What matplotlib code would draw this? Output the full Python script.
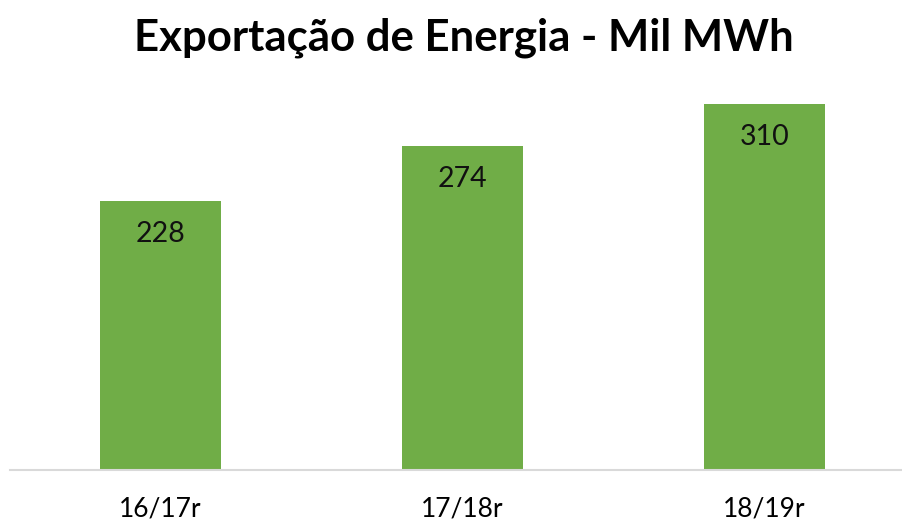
import matplotlib.pyplot as plt

categorias = ['16/17r', '17/18r', '18/19r']
valores = [228, 274, 310]
titulo = 'Exportação de Energia - Mil MWh'

plt.rcParams['font.family'] = ['Lato', 'DejaVu Sans']

fig = plt.figure(figsize=(9.03, 5.21), dpi=100)
ax = fig.add_axes([9.5 / 903, 51 / 521, (903 - 9.5) / 903, 413.7 / 521])

x = range(len(categorias))
bars = ax.bar(x, valores, width=0.4, color='#70ad47')

for b, v in zip(bars, valores):
    ax.annotate(str(v), (b.get_x() + b.get_width() / 2, v), xytext=(0, -33),
                textcoords='offset pixels', ha='center', va='center',
                fontsize=20.5, color='#111111')

ax.set_xlim(-0.5, 2.5 - 12.5 / 302)
ax.set_ylim(0, 350)
ax.set_xticks(list(x))
ax.set_xticklabels(categorias, fontsize=19)
ax.tick_params(axis='x', length=0, pad=19)
ax.set_yticks([])
for s in ['top', 'right', 'left']:
    ax.spines[s].set_visible(False)
ax.spines['bottom'].set_color('#d9d9d9')
ax.spines['bottom'].set_linewidth(1.5)

fig.text(0.514, 1 - 38 / 521, titulo, ha='center', va='center',
         fontsize=31.5, fontweight='bold')

fig.savefig('out.png', dpi=100)
